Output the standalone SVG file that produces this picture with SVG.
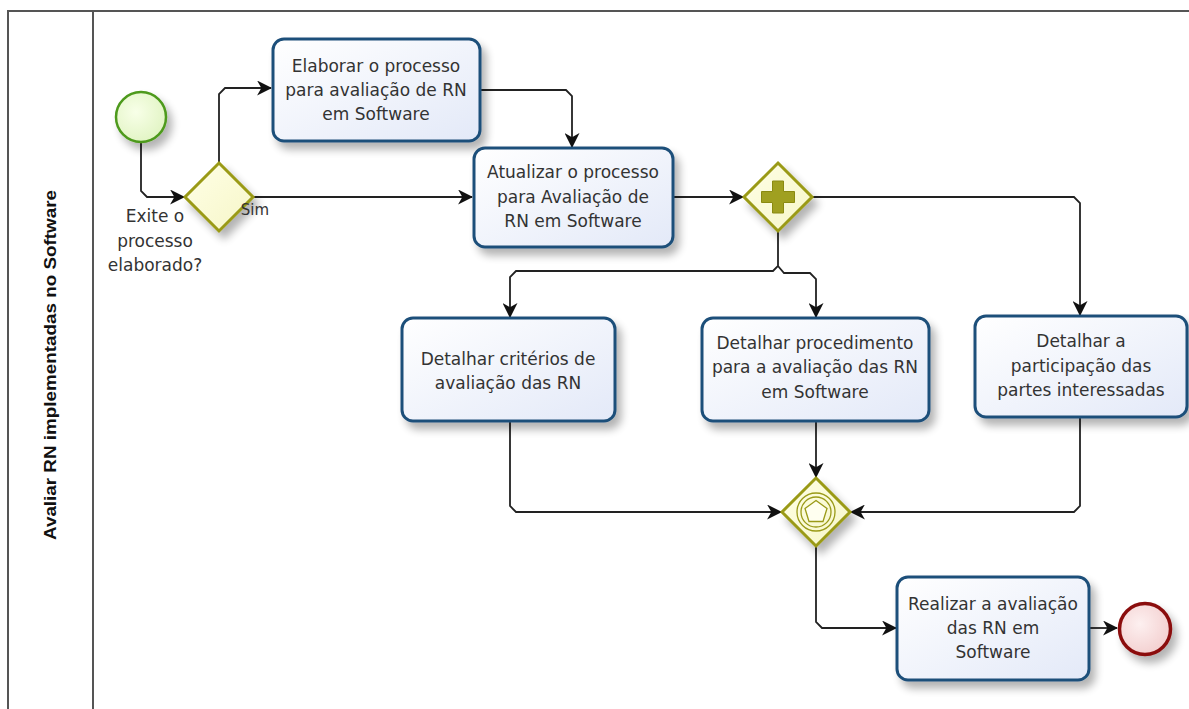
<svg xmlns="http://www.w3.org/2000/svg" width="1189" height="709" viewBox="0 0 1189 709">
<style>
.task rect{fill:url(#tg);stroke:#1f4f7a;stroke-width:3}
.t{font-family:"DejaVu Sans",sans-serif;font-size:17px;fill:#333;text-anchor:middle}
.gw{fill:url(#gg);stroke:#9a9a18;stroke-width:3}
.c{fill:none;stroke:#222;stroke-width:1.8;marker-end:url(#ah)}
.lane{fill:none;stroke:#555;stroke-width:2}
</style>
<defs>
<linearGradient id="tg" x1="0" y1="0" x2="1" y2="1"><stop offset="0" stop-color="#ffffff"/><stop offset="1" stop-color="#e3e9f8"/></linearGradient>
<linearGradient id="gg" x1="0" y1="0" x2="1" y2="1"><stop offset="0" stop-color="#ffffe6"/><stop offset="1" stop-color="#f6f6c8"/></linearGradient>
<radialGradient id="sg" cx="0.4" cy="0.4" r="0.7"><stop offset="0" stop-color="#f8ffe8"/><stop offset="1" stop-color="#dff3c0"/></radialGradient>
<radialGradient id="eg" cx="0.4" cy="0.4" r="0.7"><stop offset="0" stop-color="#fdf0f0"/><stop offset="1" stop-color="#f2cccc"/></radialGradient>
<filter id="sh" x="-20%" y="-20%" width="150%" height="160%"><feGaussianBlur in="SourceAlpha" stdDeviation="4"/><feOffset dx="5" dy="7"/><feComponentTransfer><feFuncA type="linear" slope="0.3"/></feComponentTransfer><feMerge><feMergeNode/><feMergeNode in="SourceGraphic"/></feMerge></filter>
<marker id="ah" viewBox="0 0 14 14" refX="13" refY="7" markerWidth="15" markerHeight="15" markerUnits="userSpaceOnUse" orient="auto"><path d="M0,0 L14,7 L0,14 L4,7 z" fill="#111"/></marker>
</defs>
<g id="lane">
<path class="lane" d="M1189,11 H8 V709 M93,11 V709"/>
<text transform="translate(56,365) rotate(-90)" textLength="350" lengthAdjust="spacingAndGlyphs" style="font-family:'Liberation Sans',sans-serif;font-size:17px;font-weight:bold;fill:#111;text-anchor:middle">Avaliar RN implementadas no Software</text>
</g>
<g id="connectors">
<path class="c" d="M141,143 V191 L147,197 H184"/>
<path class="c" d="M219,163 V94 L225,88 H271"/>
<path class="c" d="M253,197 H472"/>
<path class="c" d="M480,90 H566 L572,96 V147"/>
<path class="c" d="M673,197 H743"/>
<path class="c" d="M812,197 H1074 L1080,203 V315"/>
<path class="c" d="M778,231 V266 L773,271 H516 L510,277 V317"/>
<path class="c" d="M778,266 L784,273 H810 L816,279 V317"/>
<path class="c" d="M510,421 V506 L516,512 H781"/>
<path class="c" d="M816,421 V477"/>
<path class="c" d="M1080,417 V506 L1074,512 H851"/>
<path class="c" d="M816,546 V622 L822,628 H896"/>
<path class="c" d="M1089,628 H1117"/>
</g>
<g id="start"><circle cx="141" cy="117" r="25" fill="url(#sg)" stroke="#4e9a1c" stroke-width="2.5" filter="url(#sh)"/></g>
<g id="gw1">
<polygon class="gw" points="219,163 253,197 219,231 185,197" filter="url(#sh)"/>
<text class="t" x="155" y="222">Exite o</text>
<text class="t" x="155" y="247">processo</text>
<text class="t" x="155" y="271">elaborado?</text>
<text class="t" x="255" y="215" style="font-size:15px">Sim</text>
</g>
<g id="task1" class="task">
<rect x="273" y="39" width="207" height="102" rx="11" filter="url(#sh)"/>
<text class="t" x="376" y="72">Elaborar o processo</text>
<text class="t" x="376" y="96">para avaliação de RN</text>
<text class="t" x="376" y="120">em Software</text>
</g>
<g id="task2" class="task">
<rect x="474" y="148" width="199" height="99" rx="11" filter="url(#sh)"/>
<text class="t" x="573" y="178">Atualizar o processo</text>
<text class="t" x="573" y="203">para Avaliação de</text>
<text class="t" x="573" y="227">RN em Software</text>
</g>
<g id="gw2">
<polygon class="gw" points="778,163 812,197 778,231 744,197" filter="url(#sh)"/>
<path d="M772.5,181 h11 v10.5 h11 v11 h-11 v10.5 h-11 v-10.5 h-11 v-11 h11 z" fill="#a0a020" stroke="#8a8a10" stroke-width="1"/>
</g>
<g id="task3" class="task">
<rect x="402" y="318" width="213" height="103" rx="11" filter="url(#sh)"/>
<text class="t" x="508" y="365">Detalhar critérios de</text>
<text class="t" x="508" y="389">avaliação das RN</text>
</g>
<g id="task4" class="task">
<rect x="702" y="318" width="227" height="103" rx="11" filter="url(#sh)"/>
<text class="t" x="815" y="349">Detalhar procedimento</text>
<text class="t" x="815" y="373">para a avaliação das RN</text>
<text class="t" x="815" y="398">em Software</text>
</g>
<g id="task5" class="task">
<rect x="975" y="316" width="212" height="101" rx="11" filter="url(#sh)"/>
<text class="t" x="1081" y="347">Detalhar a</text>
<text class="t" x="1081" y="372">participação das</text>
<text class="t" x="1081" y="396">partes interessadas</text>
</g>
<g id="gw3">
<polygon class="gw" points="816,478 850,512 816,546 782,512" filter="url(#sh)"/>
<circle cx="816" cy="512" r="19" fill="none" stroke="#9a9a18" stroke-width="1.3"/>
<circle cx="816" cy="512" r="15" fill="none" stroke="#9a9a18" stroke-width="1.3"/>
<polygon points="816,500.5 827,508.5 823,521.5 809,521.5 805,508.5" fill="#fffff0" stroke="#9a9a18" stroke-width="1.3"/>
</g>
<g id="task6" class="task">
<rect x="897" y="577" width="192" height="103" rx="11" filter="url(#sh)"/>
<text class="t" x="993" y="610">Realizar a avaliação</text>
<text class="t" x="993" y="634">das RN em</text>
<text class="t" x="993" y="658">Software</text>
</g>
<g id="end"><circle cx="1145" cy="629" r="25.5" fill="url(#eg)" stroke="#8b0f0f" stroke-width="3.5" filter="url(#sh)"/></g>
</svg>
